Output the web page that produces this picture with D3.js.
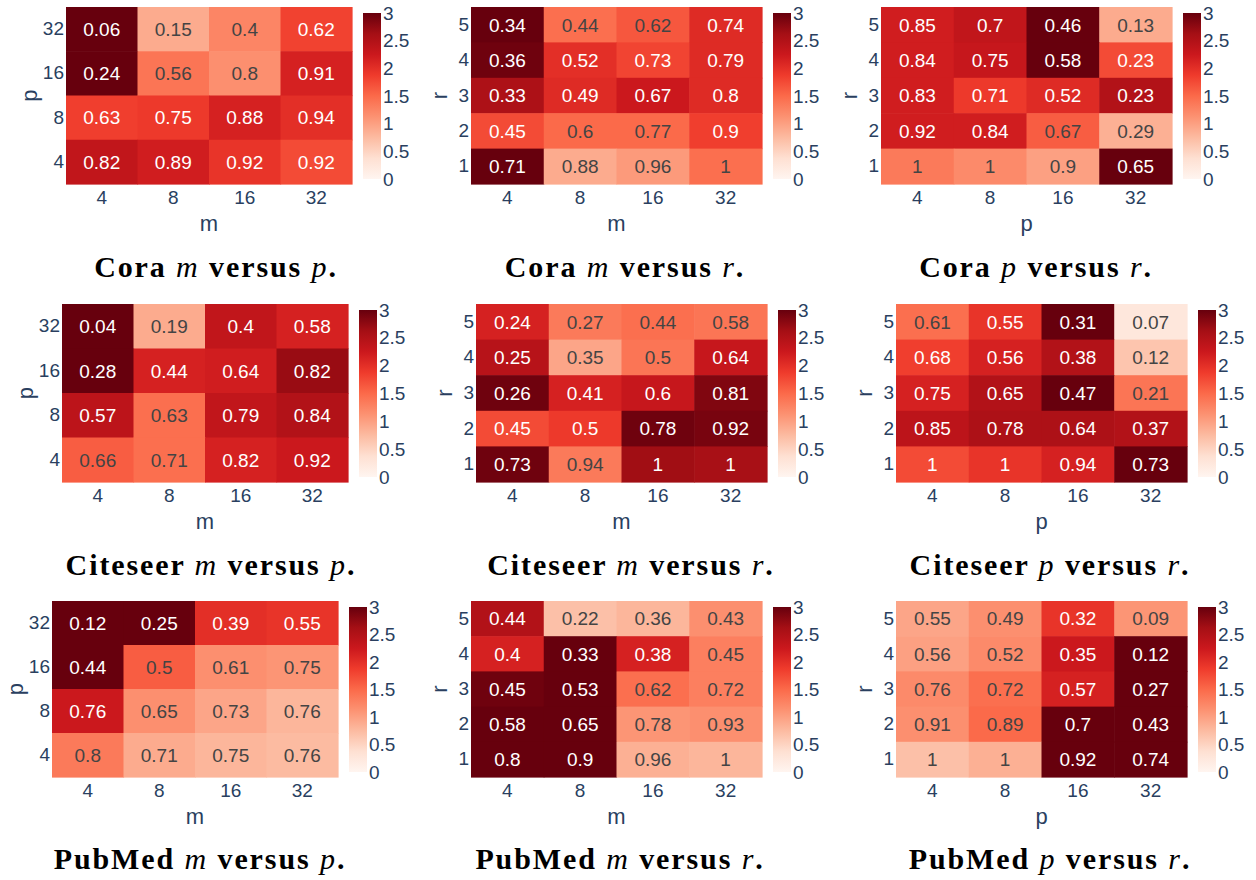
<!DOCTYPE html>
<html><head><meta charset="utf-8">
<script src="https://cdn.jsdelivr.net/npm/d3@7"></script>
<style>body{margin:0;background:#fff} svg{display:block}</style>
</head><body>
<svg id="chart" width="1256" height="880"></svg>
<script>
// ---------- categories / tick labels ----------
const mCats = ["4", "8", "16", "32"];
const pColCats = ["4", "8", "16", "32"];
const pRowCats = ["32", "16", "8", "4"];       // top -> bottom
const rRowCats = ["5", "4", "3", "2", "1"];    // top -> bottom
const colorTicks = [0, 0.5, 1, 1.5, 2, 2.5, 3];

// ---------- Cora ----------
const coraMP_text = [["0.06","0.15","0.4","0.62"],["0.24","0.56","0.8","0.91"],["0.63","0.75","0.88","0.94"],["0.82","0.89","0.92","0.92"]];
const coraMP_z    = [[3.0,0.9,1.25,1.82],[3.0,1.4,1.15,2.15],[1.85,1.9,2.15,2.0],[2.35,2.2,1.95,1.75]];
const coraMR_text = [["0.34","0.44","0.62","0.74"],["0.36","0.52","0.73","0.79"],["0.33","0.49","0.67","0.8"],["0.45","0.6","0.77","0.9"],["0.71","0.88","0.96","1"]];
const coraMR_z    = [[3.0,1.45,1.65,2.05],[2.95,2.0,1.8,2.05],[2.55,2.05,2.25,2.05],[1.75,1.5,1.5,1.85],[3.0,0.9,1.05,1.45]];
const coraPR_text = [["0.85","0.7","0.46","0.13"],["0.84","0.75","0.58","0.23"],["0.83","0.71","0.52","0.23"],["0.92","0.84","0.67","0.29"],["1","1","0.9","0.65"]];
const coraPR_z    = [[2.2,2.35,3.0,0.9],[2.2,2.3,3.0,1.75],[2.2,1.9,2.05,2.5],[2.2,2.2,1.6,0.85],[1.35,1.2,1.0,3.0]];

// ---------- Citeseer ----------
const citeMP_text = [["0.04","0.19","0.4","0.58"],["0.28","0.44","0.64","0.82"],["0.57","0.63","0.79","0.84"],["0.66","0.71","0.82","0.92"]];
const citeMP_z    = [[3.0,0.9,2.35,2.15],[3.0,2.15,2.2,2.7],[2.4,1.45,2.35,2.5],[1.6,1.45,2.15,2.25]];
const citeMR_text = [["0.24","0.27","0.44","0.58"],["0.25","0.35","0.5","0.64"],["0.26","0.41","0.6","0.81"],["0.45","0.5","0.78","0.92"],["0.73","0.94","1","1"]];
const citeMR_z    = [[2.15,1.35,1.45,1.4],[2.45,0.95,1.4,2.3],[2.95,2.15,2.3,2.85],[1.75,1.9,2.95,2.9],[2.95,1.35,2.65,2.6]];
const citePR_text = [["0.61","0.55","0.31","0.07"],["0.68","0.56","0.38","0.12"],["0.75","0.65","0.47","0.21"],["0.85","0.78","0.64","0.37"],["1","1","0.94","0.73"]];
const citePR_z    = [[1.45,1.95,3.0,0.25],[1.85,2.15,2.5,0.65],[2.15,2.5,3.0,1.4],[2.4,2.55,2.55,2.5],[1.75,1.95,2.15,3.0]];

// ---------- PubMed ----------
const pubMP_text = [["0.12","0.25","0.39","0.55"],["0.44","0.5","0.61","0.75"],["0.76","0.65","0.73","0.76"],["0.8","0.71","0.75","0.76"]];
const pubMP_z    = [[3.0,3.0,2.0,1.95],[3.0,1.6,1.15,1.1],[2.25,1.15,0.95,0.8],[1.35,0.9,0.8,0.75]];
const pubMR_text = [["0.44","0.22","0.36","0.43"],["0.4","0.33","0.38","0.45"],["0.45","0.53","0.62","0.72"],["0.58","0.65","0.78","0.93"],["0.8","0.9","0.96","1"]];
const pubMR_z    = [[2.5,0.7,0.8,1.15],[2.15,3.0,2.15,1.3],[2.95,3.0,1.45,1.3],[3.0,3.0,1.1,1.15],[3.0,3.0,0.85,0.8]];
const pubPR_text = [["0.55","0.49","0.32","0.09"],["0.56","0.52","0.35","0.12"],["0.76","0.72","0.57","0.27"],["0.91","0.89","0.7","0.43"],["1","1","0.92","0.74"]];
const pubPR_z    = [[0.95,1.15,1.95,1.1],[1.0,1.2,2.25,3.0],[1.2,1.45,2.15,3.0],[1.15,1.5,3.0,3.0],[0.7,0.85,3.0,3.0]];

// ---------- colour scale (ColorBrewer Reds, 0..3) ----------
const redsStops = ["rgb(255,245,240)","rgb(254,224,210)","rgb(252,187,161)","rgb(252,146,114)","rgb(251,106,74)","rgb(239,59,44)","rgb(203,24,29)","rgb(165,15,21)","rgb(103,0,13)"];
const zMin = 0, zMax = 3;
const color = d3.scaleLinear()
  .domain(redsStops.map((_, i) => zMin + i * (zMax - zMin) / (redsStops.length - 1)))
  .range(redsStops).interpolate(d3.interpolateRgb).clamp(true);
function contrast(c) {
  const r = d3.rgb(c);
  return (r.r * 299 + r.g * 587 + r.b * 114) / 1000 < 128 ? "#fff" : "#444";
}

// ---------- panel layout ----------
const panels = [
  {ds:"Cora",     a:"m", b:"p", xCats:mCats,    yCats:pRowCats, text:coraMP_text, z:coraMP_z, x:66,  y:7,   w:286, h:177, yt:29, cx:216,  cy:277},
  {ds:"Cora",     a:"m", b:"r", xCats:mCats,    yCats:rRowCats, text:coraMR_text, z:coraMR_z, x:471, y:7,   w:291, h:177, yt:24, cx:625,  cy:277},
  {ds:"Cora",     a:"p", b:"r", xCats:pColCats, yCats:rRowCats, text:coraPR_text, z:coraPR_z, x:881, y:7,   w:291, h:177, yt:24, cx:1036, cy:277},
  {ds:"Citeseer", a:"m", b:"p", xCats:mCats,    yCats:pRowCats, text:citeMP_text, z:citeMP_z, x:62,  y:304, w:286, h:178, yt:29, cx:211,  cy:575},
  {ds:"Citeseer", a:"m", b:"r", xCats:mCats,    yCats:rRowCats, text:citeMR_text, z:citeMR_z, x:476, y:304, w:291, h:178, yt:24, cx:631,  cy:575},
  {ds:"Citeseer", a:"p", b:"r", xCats:pColCats, yCats:rRowCats, text:citePR_text, z:citePR_z, x:896, y:304, w:291, h:178, yt:24, cx:1050, cy:575},
  {ds:"PubMed",   a:"m", b:"p", xCats:mCats,    yCats:pRowCats, text:pubMP_text,  z:pubMP_z,  x:52,  y:601, w:286, h:176, yt:29, cx:200,  cy:869},
  {ds:"PubMed",   a:"m", b:"r", xCats:mCats,    yCats:rRowCats, text:pubMR_text,  z:pubMR_z,  x:471, y:601, w:291, h:176, yt:24, cx:620,  cy:869},
  {ds:"PubMed",   a:"p", b:"r", xCats:pColCats, yCats:rRowCats, text:pubPR_text,  z:pubPR_z,  x:896, y:601, w:291, h:176, yt:24, cx:1050, cy:869}
];

const FONT = "'Liberation Sans', Arial, sans-serif";
const FS = 19;
const TXT = "#2a3f5f";
const svg = d3.select("#chart");
svg.append("rect").attr("width", 1256).attr("height", 880).attr("fill", "#fff");
const defs = svg.append("defs");
const grad = defs.append("linearGradient").attr("id", "reds")
  .attr("x1", 0).attr("y1", 1).attr("x2", 0).attr("y2", 0);
redsStops.forEach((c, i) => grad.append("stop").attr("offset", i / (redsStops.length - 1)).attr("stop-color", c));

panels.forEach(p => {
  const g = svg.append("g");
  const x = d3.scaleBand().domain(p.xCats).range([p.x, p.x + p.w]);
  const y = d3.scaleBand().domain(p.yCats).range([p.y, p.y + p.h]);
  const cells = [];
  p.yCats.forEach((yc, i) => p.xCats.forEach((xc, j) => cells.push({xc, yc, z: p.z[i][j], t: p.text[i][j]})));

  g.selectAll("rect.cell").data(cells).join("rect").attr("class", "cell")
    .attr("x", d => x(d.xc)).attr("y", d => y(d.yc))
    .attr("width", x.bandwidth() + 0.6).attr("height", y.bandwidth() + 0.6)
    .attr("fill", d => color(d.z));
  g.selectAll("text.cell").data(cells).join("text").attr("class", "cell")
    .attr("x", d => x(d.xc) + x.bandwidth() / 2).attr("y", d => y(d.yc) + y.bandwidth() / 2)
    .attr("dy", "0.36em").attr("text-anchor", "middle")
    .attr("font-family", FONT).attr("font-size", FS)
    .attr("fill", d => contrast(color(d.z))).text(d => d.t);

  // x axis
  const ax = g.append("g").attr("transform", `translate(0,${p.y + p.h})`)
    .call(d3.axisBottom(x).tickSize(0).tickPadding(6.5));
  ax.select(".domain").remove();
  ax.selectAll("text").attr("font-family", FONT).attr("font-size", FS).attr("fill", TXT);
  // y axis
  const ay = g.append("g").attr("transform", `translate(${p.x},0)`)
    .call(d3.axisLeft(y).tickSize(0).tickPadding(2));
  ay.select(".domain").remove();
  ay.selectAll("text").attr("font-family", FONT).attr("font-size", FS).attr("fill", TXT);

  // axis titles
  g.append("text").attr("x", p.x + p.w / 2).attr("y", p.y + p.h + 47)
    .attr("text-anchor", "middle").attr("font-family", FONT).attr("font-size", 22).attr("fill", TXT).text(p.a);
  g.append("text").attr("transform", `translate(${p.x - p.yt},${p.y + p.h / 2}) rotate(-90)`)
    .attr("text-anchor", "middle").attr("font-family", FONT).attr("font-size", 22).attr("fill", TXT).text(p.b);

  // colorbar
  const cbx = p.x + p.w + 11, cby = p.y + 6, cbh = p.h - 11, cbw = 18;
  g.append("rect").attr("x", cbx).attr("y", cby).attr("width", cbw).attr("height", cbh).attr("fill", "url(#reds)");
  const cs = d3.scaleLinear().domain([zMin, zMax]).range([cby + cbh, cby]);
  const ac = g.append("g").attr("transform", `translate(${cbx + cbw},0)`)
    .call(d3.axisRight(cs).tickValues(colorTicks).tickSize(0).tickPadding(2).tickFormat(d => String(d)));
  ac.select(".domain").remove();
  ac.selectAll("text").attr("font-family", FONT).attr("font-size", FS).attr("fill", TXT);

  // caption
  const cap = g.append("text").attr("x", p.cx).attr("y", p.cy).attr("text-anchor", "middle")
    .attr("font-family", "'Liberation Serif', 'Times New Roman', serif").attr("font-size", 30)
    .attr("letter-spacing", 1.9).attr("fill", "#000");
  cap.append("tspan").attr("font-weight", "bold").text(p.ds + " ");
  cap.append("tspan").attr("font-style", "italic").text(p.a);
  cap.append("tspan").attr("font-weight", "bold").text(" versus ");
  cap.append("tspan").attr("font-style", "italic").text(p.b);
  cap.append("tspan").attr("font-weight", "bold").text(".");
});
</script>
</body></html>
